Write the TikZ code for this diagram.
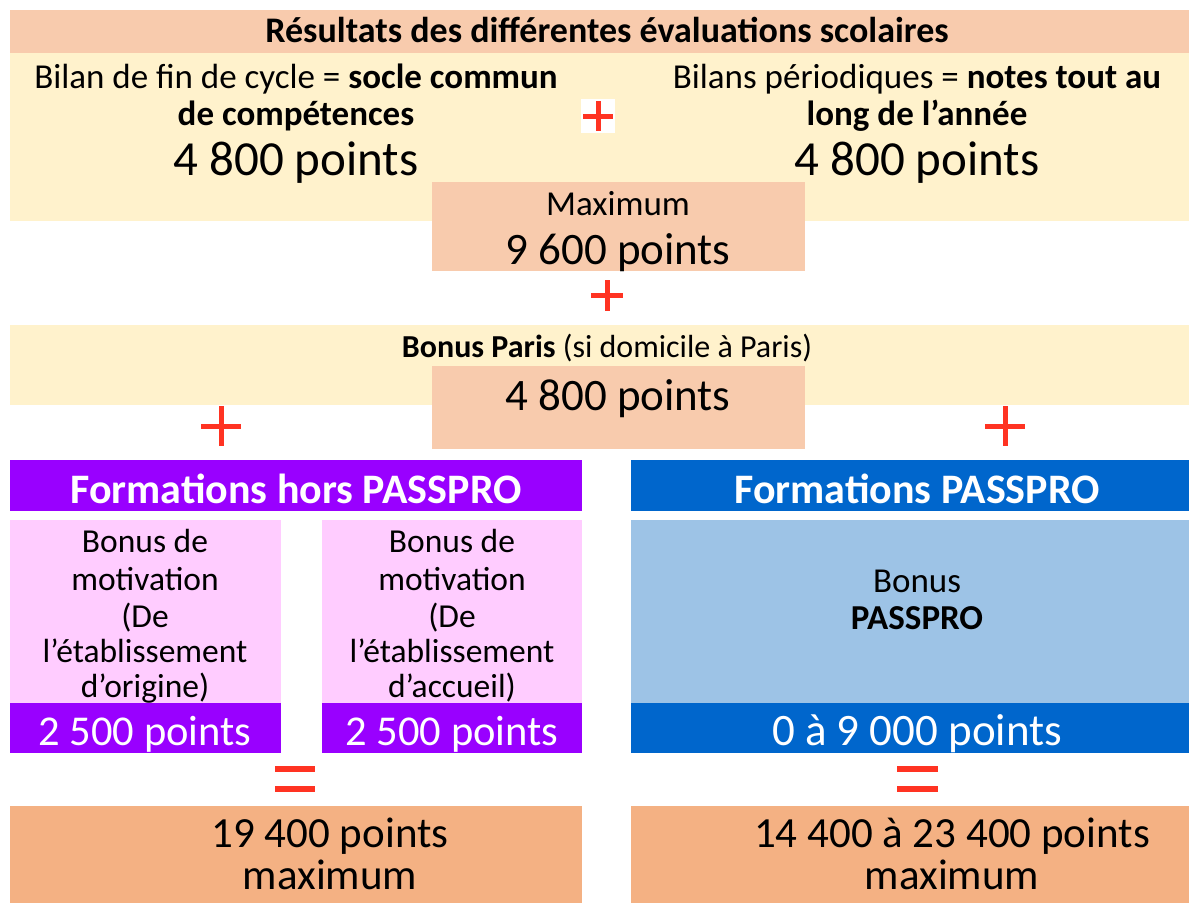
\documentclass[tikz,border=0pt]{standalone}
\usepackage{fontspec}
\setmainfont{Carlito}
\definecolor{peach}{HTML}{F8CBAD}
\definecolor{lightyellow}{HTML}{FFF2CC}
\definecolor{resultorange}{HTML}{F4B183}
\definecolor{violet}{HTML}{9900FF}
\definecolor{deepblue}{HTML}{0066CC}
\definecolor{pinkish}{HTML}{FFCCFF}
\definecolor{paleblue}{HTML}{9DC3E6}
\definecolor{plusred}{HTML}{FF3322}
\newcommand{\fs}[1]{\fontsize{#1}{#1}\selectfont}
\tikzset{
  x=1pt, y=-1pt,
  panel/.style={rectangle, inner sep=0pt, outer sep=0pt, draw=none},
  txt/.style={inner sep=0pt, outer sep=0pt, anchor=base, text=black},
  wtxt/.style={txt, text=white},
  opbar/.style={plusred, line width=5pt},
}
\begin{document}
\begin{tikzpicture}
\useasboundingbox (0,0) rectangle (1189,903);
% panels
\fill[peach] (10,10) rectangle (1189,53);
\fill[lightyellow] (10,53) rectangle (1189,221);
\fill[peach] (432,182) rectangle (805,271);
\fill[lightyellow] (10,325) rectangle (1189,405);
\fill[peach] (432,366) rectangle (805,449);
\fill[violet] (10,460) rectangle (582,511);
\fill[deepblue] (631,460) rectangle (1189,511);
\fill[pinkish] (10,520) rectangle (281,703);
\fill[pinkish] (322,520) rectangle (582,703);
\fill[violet] (10,703) rectangle (281,753);
\fill[violet] (322,703) rectangle (582,753);
\fill[paleblue] (631,520) rectangle (1189,703);
\fill[deepblue] (631,703) rectangle (1189,753);
\fill[resultorange] (10,806) rectangle (582,903);
\fill[resultorange] (631,806) rectangle (1189,903);

% texts
\node[txt] (title) at (607,42) {\fs{36}\bfseries Résultats des différentes évaluations scolaires};
\node[txt] (l1) at (296,88) {\fs{35}Bilan de fin de cycle = \textbf{socle commun}};
\node[txt] (l2) at (296,125) {\fs{35}\bfseries de compétences};
\node[txt] (l3) at (296,175) {\fs{49}4 800 points};
\node[txt] (r1) at (917,88) {\fs{35}Bilans périodiques = \textbf{notes tout au}};
\node[txt] (r2) at (917,125) {\fs{35}\bfseries long de l’année};
\node[txt] (r3) at (917,175) {\fs{49}4 800 points};
\node[txt] (max1) at (618,215) {\fs{35}Maximum};
\node[txt] (max2) at (618,264) {\fs{45}9 600 points};
\node[txt] (paris1) at (607,357) {\fs{32}\textbf{Bonus Paris} (si domicile à Paris)};
\node[txt] (paris2) at (618,410) {\fs{45}4 800 points};
\node[wtxt] (hors) at (296,503) {\fs{42}\bfseries Formations hors PASSPRO};
\node[wtxt] (pass) at (917,503) {\fs{42}\bfseries Formations PASSPRO};
\node[txt] (a1) at (145,552) {\fs{33.5}Bonus de};
\node[txt] (a2) at (145,590) {\fs{33.5}motivation};
\node[txt] (a3) at (145,627) {\fs{33.5}(De};
\node[txt] (a4) at (145,662) {\fs{33.5}l'établissement};
\node[txt] (a5) at (145,697) {\fs{33.5}d'origine)};
\node[txt] (b1) at (452,552) {\fs{33.5}Bonus de};
\node[txt] (b2) at (452,590) {\fs{33.5}motivation};
\node[txt] (b3) at (452,627) {\fs{33.5}(De};
\node[txt] (b4) at (452,662) {\fs{33.5}l'établissement};
\node[txt] (b5) at (452,697) {\fs{33.5}d'accueil)};
\node[wtxt] (apts) at (145,745) {\fs{42.5}2 500 points};
\node[wtxt] (bpts) at (452,745) {\fs{42.5}2 500 points};
\node[txt] (c1) at (917,592) {\fs{35}Bonus};
\node[txt] (c2) at (917,629) {\fs{35}\bfseries PASSPRO};
\node[wtxt] (cpts) at (917,745) {\fs{45}0 à 9 000 points};
\node[txt] (res1) at (330,847) {\fs{43}19 400 points};
\node[txt] (res1b) at (330,889) {\fs{43}maximum};
\node[txt] (res2) at (952,847) {\fs{43}14 400 à 23 400 points};
\node[txt] (res2b) at (952,889) {\fs{43}maximum};

% operators
\fill[white] (581,99) rectangle (615,133);
\draw[opbar] (583,116) -- (613,116) (598,101) -- (598,131);
\draw[opbar] (591,295) -- (623,295) (607,280) -- (607,311);
\draw[opbar] (201,426) -- (241,426) (221,406) -- (221,446);
\draw[opbar] (985,426) -- (1025,426) (1005,406) -- (1005,446);
\draw[plusred, line width=6pt] (275,769) -- (315,769) (275,789) -- (315,789);
\draw[plusred, line width=6pt] (897,769) -- (938,769) (897,789) -- (938,789);
\end{tikzpicture}
\end{document}
